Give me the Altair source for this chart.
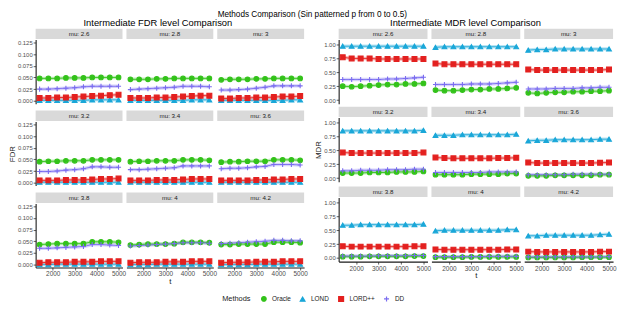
import altair as alt
import pandas as pd

# ---------------- data ----------------
t_values = [1400, 1800, 2200, 2600, 3000, 3400, 3800, 4200, 4600, 5000]
mu_labels = ["mu: 2.6", "mu: 2.8", "mu: 3", "mu: 3.2", "mu: 3.4", "mu: 3.6",
             "mu: 3.8", "mu: 4", "mu: 4.2"]
methods = ["Oracle", "LOND", "LORD++", "DD"]
colors = ["#33c21a", "#1aa7d8", "#e3201f", "#7a6cf0"]
shapes = ["circle", "triangle-up", "square", "M-1,0L1,0M0,-1L0,1"]

fdr_oracle = [
    [0.048, 0.048, 0.048, 0.049, 0.049, 0.049, 0.050, 0.050, 0.050, 0.050],
    [0.046, 0.046, 0.046, 0.047, 0.047, 0.048, 0.048, 0.048, 0.048, 0.048],
    [0.045, 0.046, 0.046, 0.046, 0.047, 0.047, 0.048, 0.048, 0.048, 0.048],
    [0.045, 0.046, 0.046, 0.047, 0.047, 0.047, 0.049, 0.049, 0.049, 0.049],
    [0.045, 0.046, 0.046, 0.047, 0.047, 0.047, 0.049, 0.049, 0.049, 0.048],
    [0.044, 0.045, 0.045, 0.046, 0.046, 0.046, 0.049, 0.049, 0.049, 0.048],
    [0.043, 0.044, 0.045, 0.045, 0.045, 0.045, 0.049, 0.049, 0.049, 0.048],
    [0.042, 0.043, 0.044, 0.044, 0.044, 0.045, 0.048, 0.048, 0.048, 0.047],
    [0.043, 0.043, 0.044, 0.044, 0.044, 0.044, 0.048, 0.048, 0.048, 0.047],
]
fdr_lond = [
    [0.001, 0.001, 0.001, 0.001, 0.001, 0.001, 0.002, 0.002, 0.002, 0.002],
    [0.001, 0.001, 0.001, 0.001, 0.001, 0.001, 0.001, 0.002, 0.002, 0.002],
    [0.001, 0.001, 0.001, 0.001, 0.001, 0.001, 0.001, 0.001, 0.002, 0.002],
    [0.001, 0.001, 0.001, 0.001, 0.001, 0.001, 0.001, 0.001, 0.001, 0.001],
    [0.001, 0.001, 0.001, 0.001, 0.001, 0.001, 0.001, 0.001, 0.001, 0.001],
    [0.001, 0.001, 0.001, 0.001, 0.001, 0.001, 0.001, 0.001, 0.001, 0.001],
    [0.000, 0.000, 0.001, 0.001, 0.001, 0.001, 0.001, 0.001, 0.001, 0.001],
    [0.000, 0.000, 0.000, 0.001, 0.001, 0.001, 0.001, 0.001, 0.001, 0.001],
    [0.000, 0.000, 0.000, 0.000, 0.001, 0.001, 0.001, 0.001, 0.001, 0.001],
]
fdr_lordpp = [
    [0.006, 0.006, 0.007, 0.007, 0.008, 0.009, 0.010, 0.011, 0.012, 0.013],
    [0.006, 0.006, 0.006, 0.007, 0.007, 0.008, 0.009, 0.010, 0.011, 0.011],
    [0.005, 0.005, 0.006, 0.006, 0.007, 0.007, 0.008, 0.009, 0.009, 0.010],
    [0.005, 0.005, 0.005, 0.006, 0.006, 0.006, 0.007, 0.008, 0.008, 0.009],
    [0.005, 0.005, 0.005, 0.006, 0.006, 0.006, 0.007, 0.008, 0.008, 0.008],
    [0.005, 0.005, 0.005, 0.005, 0.006, 0.006, 0.007, 0.007, 0.008, 0.008],
    [0.004, 0.005, 0.005, 0.005, 0.006, 0.006, 0.006, 0.007, 0.007, 0.007],
    [0.004, 0.005, 0.005, 0.005, 0.006, 0.006, 0.006, 0.007, 0.007, 0.007],
    [0.004, 0.005, 0.005, 0.005, 0.006, 0.006, 0.006, 0.007, 0.007, 0.007],
]
fdr_dd = [
    [0.025, 0.025, 0.026, 0.027, 0.028, 0.030, 0.031, 0.031, 0.031, 0.031],
    [0.024, 0.025, 0.026, 0.027, 0.028, 0.029, 0.031, 0.031, 0.031, 0.030],
    [0.023, 0.023, 0.024, 0.025, 0.027, 0.029, 0.032, 0.032, 0.032, 0.032],
    [0.024, 0.024, 0.025, 0.027, 0.028, 0.030, 0.034, 0.034, 0.033, 0.033],
    [0.028, 0.028, 0.029, 0.030, 0.031, 0.032, 0.036, 0.036, 0.036, 0.036],
    [0.030, 0.031, 0.031, 0.032, 0.034, 0.035, 0.039, 0.039, 0.039, 0.038],
    [0.035, 0.035, 0.036, 0.037, 0.038, 0.039, 0.043, 0.043, 0.042, 0.041],
    [0.040, 0.041, 0.042, 0.043, 0.044, 0.045, 0.047, 0.047, 0.047, 0.046],
    [0.045, 0.046, 0.047, 0.048, 0.049, 0.050, 0.052, 0.052, 0.051, 0.051],
]

mdr_oracle = [
    [0.25, 0.24, 0.25, 0.26, 0.27, 0.28, 0.28, 0.29, 0.29, 0.30],
    [0.18, 0.17, 0.17, 0.18, 0.19, 0.19, 0.20, 0.20, 0.21, 0.22],
    [0.13, 0.12, 0.13, 0.14, 0.14, 0.15, 0.15, 0.16, 0.16, 0.17],
    [0.09, 0.09, 0.09, 0.10, 0.10, 0.10, 0.11, 0.11, 0.11, 0.12],
    [0.06, 0.06, 0.06, 0.06, 0.07, 0.07, 0.07, 0.07, 0.08, 0.08],
    [0.04, 0.04, 0.04, 0.05, 0.05, 0.05, 0.05, 0.05, 0.06, 0.06],
    [0.025, 0.025, 0.025, 0.03, 0.03, 0.03, 0.03, 0.03, 0.035, 0.035],
    [0.015, 0.015, 0.015, 0.015, 0.02, 0.02, 0.02, 0.02, 0.02, 0.02],
    [0.01, 0.01, 0.01, 0.01, 0.01, 0.01, 0.015, 0.015, 0.015, 0.015],
]
mdr_lond = [
    [0.97, 0.97, 0.97, 0.97, 0.97, 0.97, 0.97, 0.97, 0.97, 0.97],
    [0.95, 0.96, 0.96, 0.96, 0.96, 0.96, 0.96, 0.96, 0.96, 0.96],
    [0.90, 0.91, 0.91, 0.92, 0.92, 0.92, 0.92, 0.92, 0.92, 0.92],
    [0.85, 0.85, 0.85, 0.85, 0.85, 0.85, 0.85, 0.85, 0.85, 0.86],
    [0.77, 0.77, 0.77, 0.78, 0.78, 0.78, 0.78, 0.78, 0.78, 0.79],
    [0.67, 0.68, 0.68, 0.69, 0.69, 0.69, 0.69, 0.69, 0.70, 0.70],
    [0.59, 0.59, 0.60, 0.60, 0.60, 0.60, 0.60, 0.60, 0.60, 0.61],
    [0.49, 0.50, 0.50, 0.50, 0.50, 0.50, 0.50, 0.50, 0.51, 0.51],
    [0.40, 0.40, 0.41, 0.41, 0.41, 0.41, 0.41, 0.41, 0.42, 0.43],
]
mdr_lordpp = [
    [0.77, 0.75, 0.75, 0.75, 0.74, 0.74, 0.74, 0.74, 0.74, 0.74],
    [0.66, 0.645, 0.645, 0.645, 0.645, 0.645, 0.645, 0.645, 0.645, 0.645],
    [0.55, 0.54, 0.54, 0.54, 0.54, 0.54, 0.54, 0.54, 0.54, 0.55],
    [0.46, 0.45, 0.45, 0.45, 0.45, 0.45, 0.45, 0.45, 0.45, 0.46],
    [0.37, 0.36, 0.355, 0.355, 0.355, 0.355, 0.355, 0.36, 0.36, 0.365],
    [0.28, 0.27, 0.27, 0.27, 0.27, 0.27, 0.27, 0.27, 0.275, 0.28],
    [0.21, 0.205, 0.205, 0.205, 0.205, 0.205, 0.205, 0.205, 0.21, 0.21],
    [0.155, 0.15, 0.15, 0.15, 0.15, 0.15, 0.15, 0.15, 0.155, 0.155],
    [0.115, 0.11, 0.11, 0.11, 0.11, 0.11, 0.11, 0.11, 0.115, 0.115],
]
mdr_dd = [
    [0.37, 0.37, 0.37, 0.37, 0.37, 0.38, 0.38, 0.39, 0.40, 0.41],
    [0.28, 0.28, 0.28, 0.28, 0.29, 0.29, 0.29, 0.30, 0.31, 0.32],
    [0.20, 0.20, 0.20, 0.21, 0.21, 0.21, 0.22, 0.22, 0.23, 0.23],
    [0.13, 0.13, 0.14, 0.14, 0.14, 0.15, 0.15, 0.15, 0.16, 0.16],
    [0.10, 0.10, 0.10, 0.10, 0.10, 0.10, 0.11, 0.11, 0.11, 0.11],
    [0.06, 0.06, 0.06, 0.06, 0.06, 0.07, 0.07, 0.07, 0.07, 0.07],
    [0.035, 0.035, 0.035, 0.035, 0.04, 0.04, 0.04, 0.04, 0.045, 0.045],
    [0.025, 0.025, 0.025, 0.025, 0.025, 0.025, 0.03, 0.03, 0.03, 0.03],
    [0.02, 0.02, 0.02, 0.02, 0.02, 0.02, 0.02, 0.02, 0.02, 0.025],
]

fdr_ticks = [0, 0.025, 0.05, 0.075, 0.1, 0.125]
mdr_ticks = [0, 0.25, 0.5, 0.75, 1.0]
x_ticks = [2000, 3000, 4000, 5000]

# ---------------- table ----------------
rows = []
for metric, series in [("FDR", [fdr_oracle, fdr_lond, fdr_lordpp, fdr_dd]),
                       ("MDR", [mdr_oracle, mdr_lond, mdr_lordpp, mdr_dd])]:
    for m, vals in zip(methods, series):
        for i, mu in enumerate(mu_labels):
            for t, v in zip(t_values, vals[i]):
                rows.append({"metric": metric, "mu": mu, "method": m,
                             "t": t, "value": v})
df = pd.DataFrame(rows)

FONT = "Liberation Sans"
H = 65
WIDTHS = {"FDR": 88, "MDR": 90}

legend = alt.Legend(orient="none", legendX=189, legendY=259, direction="horizontal",
                    title="Methods", titleOrient="left", titleFontSize=7.5,
                    titleFontWeight="normal", titleColor="#1a1a1a", labelFontSize=6.5,
                    labelColor="#1a1a1a", symbolSize=40, symbolStrokeWidth=1.2,
                    symbolOpacity=1, columnPadding=6, labelOffset=5, titlePadding=10,
                    labelFont=FONT, titleFont=FONT)
cscale = alt.Scale(domain=methods, range=colors)
sscale = alt.Scale(domain=methods, range=shapes)
zscale = alt.Scale(domain=methods, range=[22, 26, 22, 64])


def panel(metric, i):
    W = WIDTHS[metric]
    row, col = i // 3, i % 3
    d = df[(df.metric == metric) & (df.mu == mu_labels[i])]
    if metric == "FDR":
        ydom, yticks, yfmt = [-0.00625, 0.13125], fdr_ticks, ".3f"
    else:
        ydom, yticks, yfmt = [-0.065, 1.09], mdr_ticks, ".2f"
    if row == 2:
        xax = alt.Axis(values=x_ticks, format="d", title="t" if col == 1 else None,
                       labelFontSize=6.5, titleFontSize=8, titlePadding=0)
    else:
        xax = None
    if col == 0:
        yax = alt.Axis(values=yticks, format=yfmt, title=metric,
                       titleOpacity=1 if row == 1 else 0,
                       labelFontSize=6, titleFontSize=8, titlePadding=1)
    else:
        yax = None
    x = alt.X("t:Q", scale=alt.Scale(domain=[1220, 5180], nice=False, zero=False), axis=xax)
    y = alt.Y("value:Q", scale=alt.Scale(domain=ydom, nice=False, zero=False), axis=yax)
    base = alt.Chart(d)
    band = base.mark_line(strokeWidth=3.5, opacity=0.3).encode(
        x=x, y=y, stroke=alt.Stroke("method:N", scale=cscale, legend=legend), order="t:Q")
    line = base.mark_line(strokeWidth=0.9).encode(
        x=x, y=y, stroke=alt.Stroke("method:N", scale=cscale, legend=legend), order="t:Q")
    pts = base.mark_point(opacity=1, strokeWidth=1.1).encode(
        x=x, y=y,
        fill=alt.Fill("method:N", scale=cscale, legend=legend),
        stroke=alt.Stroke("method:N", scale=cscale, legend=legend),
        shape=alt.Shape("method:N", scale=sscale, legend=legend),
        size=alt.Size("method:N", scale=zscale, legend=None),
    )
    one = alt.Data(values=[{"a": 1}])
    strip = alt.Chart(one).mark_rect(color="#d9d9d9").encode(
        x=alt.value(0), x2=alt.value(W), y=alt.value(-11), y2=alt.value(-0.5))
    stext = alt.Chart(one).mark_text(text=mu_labels[i], fontSize=6.3, color="#1a1a1a",
                                     font=FONT, baseline="middle").encode(
        x=alt.value(W / 2), y=alt.value(-5.5))
    return alt.layer(strip, stext, band, line, pts).properties(width=W, height=H)


def grid(metric, title):
    return alt.concat(*[panel(metric, i) for i in range(9)], columns=3, align="each",
                      spacing={"row": 3, "column": -3},
                      title=alt.Title(title, fontSize=9.5, fontWeight="normal", anchor="middle",
                                      color="#000000", font=FONT, offset=1))


chart = alt.hconcat(
    grid("FDR", "Intermediate FDR level Comparison"),
    grid("MDR", "Intermediate MDR level Comparison"),
    spacing=6,
    title=alt.Title("Methods Comparison (Sin patterned p from 0 to 0.5)", fontSize=8.3,
                    fontWeight="normal", anchor="middle", color="#000000", font=FONT, offset=0),
).properties(
    padding={"left": 0, "top": 0, "right": 0, "bottom": 0}
).configure_view(stroke=None).configure_axis(
    grid=False, labelColor="#4d4d4d", labelFont=FONT, titleFont=FONT, titleColor="#1a1a1a",
    titleFontWeight="normal", tickColor="#333333", tickSize=2.5, tickWidth=0.8,
    domainColor="#1a1a1a", domainWidth=1.1, labelPadding=1
)

chart.save("out.html", embed_options={"renderer": "svg", "actions": False})
